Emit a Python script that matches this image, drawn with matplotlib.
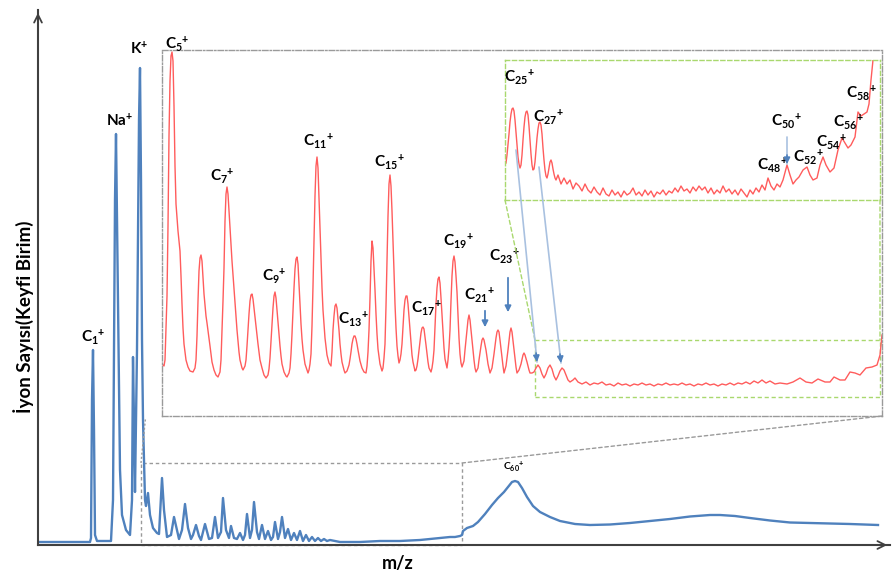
import matplotlib

matplotlib.use("Agg")
import matplotlib.pyplot as plt
import numpy as np
from matplotlib.patches import ConnectionPatch, Rectangle

plt.rcParams["font.family"] = ["Lato", "DejaVu Sans"]
plt.rcParams["font.weight"] = "bold"
plt.rcParams["mathtext.fontset"] = "custom"
for key in ("rm", "it", "bf", "sf"):
    plt.rcParams["mathtext." + key] = "Lato:bold"

# full spectrum (arbitrary m/z units, arbitrary counts)
full_mz = [0, 22, 52, 53, 54, 55, 56, 57, 59, 73, 75, 77, 78, 80, 82, 84, 88, 92, 94, 95, 96, 97,
           99, 101, 102, 103, 104, 105, 107, 108, 110, 112, 115, 119, 121, 122, 124, 126, 129, 133,
           136, 139, 141, 144, 147, 150, 153, 155, 158, 161, 163, 167, 171, 174, 177, 180, 183, 185,
           188, 191, 193, 196, 199, 202, 205, 207, 209, 212, 214, 216, 219, 221, 224, 227, 230, 233,
           235, 237, 240, 242, 244, 247, 250, 253, 256, 259, 262, 265, 268, 271, 274, 277, 280, 283,
           286, 289, 292, 302, 322, 342, 362, 382, 392, 402, 412, 417, 422, 424, 425, 429, 435, 440,
           447, 454, 460, 466, 470, 474, 477, 480, 484, 489, 495, 502, 512, 522, 537, 552, 572, 592,
           612, 632, 652, 672, 682, 697, 712, 732, 752, 772, 792, 812, 840]
full_int = [3, 3, 3, 7, 145, 195, 115, 10, 4, 4, 45, 345, 411, 245, 75, 30, 15, 10, 45, 188, 125, 53,
            195, 425, 477, 365, 205, 125, 45, 39, 52, 30, 17, 12, 11, 30, 67, 35, 8, 10,
            28, 15, 6, 15, 41, 17, 6, 10, 20, 9, 5, 21, 6, 7, 28, 7, 13, 47,
            15, 7, 19, 7, 6, 12, 5, 10, 31, 7, 15, 43, 13, 6, 20, 6, 14, 5,
            8, 23, 6, 13, 28, 7, 16, 5, 12, 5, 14, 4, 10, 4, 8, 4, 7, 4,
            6, 4, 5, 3, 3, 4, 4, 5, 6, 7, 8, 8, 9, 10, 14, 17, 19, 23,
            31, 40, 47, 53, 58, 63, 64, 63, 57, 48, 39, 33, 28, 24, 21, 20, 20.5, 22,
            24, 26, 28.5, 30, 30, 29, 27, 24.5, 22.5, 22, 21.5, 21, 20]

# zoom 1: low-mass carbon clusters, (m/z, counts)
zoom_points = [
    (0, 52), (2, 50), (3, 56), (5, 120), (6, 190), (7, 280), (8, 335), (9, 360), (10, 364), (11, 355),
    (12, 310), (13, 250), (14, 212), (16, 185), (18, 165), (19, 140), (20, 112), (21, 88), (22, 72),
    (24, 56), (26, 49), (28, 45), (31, 44), (33, 48), (34, 56), (35, 80), (36, 115), (37, 145),
    (38, 158), (39, 161), (40, 155), (41, 138), (42, 122), (44, 100), (45, 93), (47, 78), (48, 70),
    (50, 54), (52, 46), (54, 41), (56, 39), (58, 44), (59, 56), (60, 85), (61, 115), (62, 148),
    (63, 195), (64, 222), (65, 229), (66, 222), (67, 205), (68, 188), (70, 155), (72, 128), (74, 100),
    (75, 86), (77, 64), (78, 56), (80, 48), (81, 46), (83, 50), (84, 56), (85, 70), (86, 86), (87, 102),
    (88, 115), (89, 121), (90, 122), (91, 117), (92, 108), (93, 100), (95, 82), (96, 72), (98, 56),
    (100, 48), (102, 41), (104, 38), (106, 41), (107, 47), (108, 58), (109, 75), (110, 92), (111, 108),
    (112, 120), (113, 124), (114, 118), (115, 106), (116, 95), (117, 83), (118, 70), (119, 60),
    (120, 52), (122, 44), (124, 40), (125, 39), (127, 43), (128, 48), (129, 62), (130, 82), (131, 106),
    (132, 128), (133, 147), (134, 157), (135, 159), (136, 152), (137, 132), (138, 111), (139, 92),
    (140, 77), (141, 66), (143, 52), (146, 43), (147, 46), (148, 52), (149, 62), (150, 90), (151, 130),
    (152, 176), (153, 220), (154, 250), (155, 259), (156, 248), (157, 218), (158, 185), (159, 155),
    (160, 128), (161, 106), (163, 78), (165, 61), (167, 53), (169, 50), (170, 64), (171, 86),
    (172, 100), (173, 110), (174, 112), (175, 108), (176, 97), (177, 86), (178, 72), (179, 62),
    (180, 54), (182, 46), (183, 43), (185, 45), (187, 51), (188, 57), (189, 64), (190, 72), (191, 77),
    (192, 80), (193, 80), (194, 77), (195, 72), (196, 66), (198, 55), (200, 48), (202, 44), (204, 43),
    (205, 50), (206, 64), (207, 86), (208, 118), (209, 155), (210, 175), (211, 168), (212, 148),
    (213, 126), (214, 102), (215, 82), (216, 67), (218, 52), (220, 45), (221, 48), (222, 58), (223, 72),
    (224, 110), (225, 156), (226, 200), (227, 232), (228, 241), (229, 230), (230, 205), (231, 176),
    (232, 145), (233, 112), (234, 88), (235, 70), (236, 60), (237, 53), (238, 56), (239, 62), (240, 72),
    (241, 90), (242, 106), (243, 116), (244, 120), (245, 120), (246, 112), (247, 99), (248, 86),
    (249, 72), (250, 61), (251, 54), (253, 45), (254, 46), (255, 50), (256, 57), (257, 66), (258, 76),
    (259, 83), (260, 88), (261, 89), (262, 87), (263, 79), (264, 71), (265, 62), (266, 54), (267, 48),
    (269, 44), (270, 48), (271, 55), (272, 66), (273, 88), (274, 112), (275, 128), (276, 137),
    (277, 139), (278, 133), (279, 118), (280, 101), (281, 84), (282, 68), (283, 57), (285, 48),
    (286, 56), (287, 68), (288, 86), (289, 115), (290, 140), (291, 155), (292, 160), (293, 154),
    (294, 140), (295, 124), (296, 100), (297, 78), (298, 62), (299, 53), (300, 49), (302, 55),
    (303, 66), (305, 86), (306, 96), (307, 101), (308, 96), (309, 86), (310, 76), (312, 56), (313, 48),
    (314, 44), (316, 48), (317, 56), (319, 70), (320, 76), (321, 78), (322, 76), (323, 71), (324, 66),
    (326, 52), (328, 43), (330, 48), (332, 62), (334, 78), (335, 84), (336, 86), (337, 84), (338, 76),
    (339, 67), (341, 50), (342, 43), (344, 50), (346, 66), (348, 84), (349, 88), (350, 84), (352, 66),
    (354, 49), (355, 43), (357, 46), (359, 52), (361, 61), (362, 63), (363, 61), (365, 54), (367, 46),
    (368, 43), (370, 43), (372, 44), (374, 48), (376, 51), (378, 48), (380, 42), (382, 38), (384, 42),
    (386, 48), (388, 51), (390, 47), (392, 40), (394, 36), (396, 40), (398, 45), (400, 48), (402, 46),
    (404, 41), (406, 36), (408, 34), (411, 36), (413, 38), (416, 34), (420, 32), (424, 34), (428, 31),
    (432, 33), (436, 32), (440, 34), (444, 31), (448, 32), (452, 30), (456, 33), (460, 31), (464, 32),
    (468, 30), (472, 32), (476, 31), (480, 33), (484, 31), (488, 32), (492, 30), (496, 32), (500, 31),
    (504, 33), (508, 31), (512, 32), (516, 31), (520, 33), (524, 31), (528, 32), (532, 30), (536, 32),
    (540, 31), (544, 33), (548, 31), (552, 32), (556, 30), (560, 32), (564, 31), (568, 33), (572, 31),
    (576, 33), (580, 32), (584, 34), (588, 32), (592, 35), (596, 33), (600, 36), (604, 33), (608, 35),
    (613, 32), (618, 33), (625, 32), (631, 34), (638, 38), (644, 34), (650, 33), (656, 37), (663, 34),
    (668, 34), (672, 39), (678, 36), (683, 36), (688, 44), (693, 43), (698, 41), (704, 48), (710, 49),
    (715, 51), (718, 61), (720, 81),
]
zoom_mz = [p[0] for p in zoom_points]
zoom_int = [p[1] for p in zoom_points]

# zoom 2: high-mass clusters C25 ... C58
deep_points = [
    (1, 37), (2, 45), (3, 55), (4, 66), (5, 78), (6, 86), (7, 91), (8, 92), (9, 89), (10, 80), (11, 68),
    (12, 55), (13, 43), (14, 36), (15, 32), (16, 35), (17, 45), (18, 60), (19, 73), (20, 83), (21, 88),
    (22, 89), (23, 85), (24, 74), (25, 60), (26, 46), (27, 35), (28, 30), (29, 31), (30, 38), (31, 50),
    (32, 62), (33, 71), (34, 77), (35, 78), (36, 75), (37, 66), (38, 52), (39, 40), (40, 30), (41, 24),
    (42, 22), (43, 26), (44, 32), (45, 38), (46, 40), (47, 37), (48, 31), (49, 26), (50, 22), (51, 20),
    (53, 25), (56, 16), (59, 22), (62, 16), (65, 20), (68, 11), (71, 17), (74, 14), (77, 9), (80, 16),
    (83, 10), (86, 7), (89, 13), (92, 8), (95, 5), (98, 12), (101, 6), (104, 4), (107, 10), (110, 5),
    (113, 8), (116, 3), (119, 9), (122, 5), (125, 7), (128, 12), (131, 5), (134, 8), (137, 4), (140, 10),
    (143, 5), (146, 9), (149, 3), (152, 8), (155, 6), (158, 10), (161, 5), (164, 9), (167, 7), (170, 12),
    (173, 8), (176, 14), (179, 9), (182, 11), (185, 7), (188, 13), (191, 9), (194, 14), (197, 10),
    (200, 13), (203, 7), (206, 12), (209, 6), (212, 10), (215, 7), (218, 14), (221, 8), (224, 11),
    (227, 6), (230, 10), (233, 5), (236, 11), (239, 7), (242, 3), (245, 10), (248, 6), (251, 12),
    (254, 8), (257, 15), (260, 10), (263, 22), (266, 14), (269, 10), (272, 16), (275, 13), (278, 20),
    (282, 35), (285, 25), (288, 16), (291, 20), (294, 23), (298, 30), (302, 33), (305, 25), (308, 20),
    (312, 22), (315, 35), (318, 43), (321, 35), (325, 28), (329, 32), (333, 50), (337, 62), (340, 57),
    (343, 52), (346, 55), (350, 63), (353, 88), (356, 84), (359, 86), (362, 88), (364, 96), (366, 120),
    (368, 140),
]
deep_mz = [p[0] for p in deep_points]
deep_int = [p[1] for p in deep_points]

BLUE = "#4f81bd"
LIGHT_BLUE = "#a9c1e0"
RED = "#ff5c5c"
GREEN = "#a9d86e"
GREY = "#9a9a9a"
AXIS = "#404040"

fig = plt.figure(figsize=(8.93, 5.76), dpi=100)
ax = fig.add_axes([38 / 893, 31 / 576, 852 / 893, 535 / 576])
ax.plot(full_mz, full_int, color=BLUE, lw=1.7, solid_joinstyle="round")
ax.set_xlim(0, 852)
ax.set_ylim(0, 535)
ax.set_xticks([])
ax.set_yticks([])
for side in ("top", "right"):
    ax.spines[side].set_visible(False)
for side in ("left", "bottom"):
    ax.spines[side].set_color(AXIS)
    ax.spines[side].set_linewidth(1.5)
ax.annotate("", xy=(0, 1.0), xytext=(0, 0.95), xycoords="axes fraction",
            arrowprops=dict(arrowstyle="->", color=AXIS, lw=1.3, mutation_scale=14), annotation_clip=False)
ax.annotate("", xy=(1.0, 0), xytext=(0.97, 0), xycoords="axes fraction",
            arrowprops=dict(arrowstyle="->", color=AXIS, lw=1.3, mutation_scale=14), annotation_clip=False)
ax.set_ylabel("İyon Sayısı(Keyfi Birim)", fontsize=13.5, fontweight="bold")
ax.yaxis.set_label_coords(-4 / 852, 228 / 535)
ax.set_xlabel("m/z", fontsize=13, fontweight="bold")
ax.xaxis.set_label_coords(360 / 852, -10 / 535)

lab = dict(ha="center", va="center", fontsize=11, fontweight="bold")
ax.text(55, 208, "C$_{1}$$^{+}$", **lab)
ax.text(82, 424, "Na$^{+}$", **lab)
ax.text(101, 496, "K$^{+}$", **lab)
ax.text(476, 78, "C$_{60}$$^{+}$", ha="center", va="center", fontsize=7.5, fontweight="bold")

# region that is enlarged in the first inset
x0, x1, ytop = 103, 424, 82
ax.add_patch(Rectangle((x0, 0), x1 - x0, ytop, fill=False, ls=(0, (2.5, 2)), lw=1, ec=GREY, clip_on=False))
ax.plot([x0, x0 + 4.5], [ytop, ytop + 45], ls=(0, (1.5, 1.5)), lw=1, color=GREY)

ins = fig.add_axes([162 / 893, 160 / 576, 720 / 893, 366 / 576])
ins.plot(zoom_mz, zoom_int, color=RED, lw=1.0, solid_joinstyle="round")
ins.set_xlim(0, 720)
ins.set_ylim(0, 366)
ins.set_xticks([])
ins.set_yticks([])
ins.patch.set_alpha(0)
for sp in ins.spines.values():
    sp.set_color(GREY)
    sp.set_linewidth(1)
    sp.set_linestyle((0, (4, 1.5, 1, 1.5)))
fig.add_artist(ConnectionPatch(xyA=(x1, ytop), coordsA=ax.transData, xyB=(1, 0), coordsB=ins.transAxes,
                               ls=(0, (2.5, 2)), lw=1, color=GREY))

for x, y, s in [(15, 372, "C$_{5}$$^{+}$"), (60, 240, "C$_{7}$$^{+}$"), (112, 140, "C$_{9}$$^{+}$"),
                (156, 275, "C$_{11}$$^{+}$"), (191, 97, "C$_{13}$$^{+}$"), (227, 254, "C$_{15}$$^{+}$"),
                (264, 108, "C$_{17}$$^{+}$"), (296, 175, "C$_{19}$$^{+}$"), (317, 121, "C$_{21}$$^{+}$"),
                (342, 160, "C$_{23}$$^{+}$")]:
    ins.text(x, y, s, **lab)
for x, ya, yb in [(323, 108, 86), (346, 141, 101)]:
    ins.annotate("", xy=(x, yb), xytext=(x, ya),
                 arrowprops=dict(arrowstyle="-|>", color=BLUE, lw=1.3, mutation_scale=9))

# region enlarged again in the second inset
g0, g1, gy0, gy1 = 373, 718, 19, 76
ins.add_patch(Rectangle((g0, gy0), g1 - g0, gy1 - gy0, fill=False, ls=(0, (3, 2)), lw=1, ec=GREEN))

deep = fig.add_axes([505 / 893, 376 / 576, 375 / 893, 140 / 576])
deep.plot(deep_mz, deep_int, color=RED, lw=1.0, solid_joinstyle="round")
deep.set_xlim(0, 375)
deep.set_ylim(0, 140)
deep.set_xticks([])
deep.set_yticks([])
deep.patch.set_alpha(0)
for sp in deep.spines.values():
    sp.set_color(GREEN)
    sp.set_linewidth(1)
    sp.set_linestyle((0, (3, 2)))
for xy_a, xy_b in [((0, 0), (g0, gy1)), ((1, 0), (g1, gy1))]:
    fig.add_artist(ConnectionPatch(xyA=xy_a, coordsA=deep.transAxes, xyB=xy_b, coordsB=ins.transData,
                                   ls=(0, (3, 2)), lw=1, color=GREEN))

for x, y, s in [(14, 123, "C$_{25}$$^{+}$"), (43, 83, "C$_{27}$$^{+}$"), (267, 35, "C$_{48}$$^{+}$"),
                (281, 79, "C$_{50}$$^{+}$"), (303, 43, "C$_{52}$$^{+}$"), (326, 58, "C$_{54}$$^{+}$"),
                (343, 78, "C$_{56}$$^{+}$"), (356, 107, "C$_{58}$$^{+}$")]:
    deep.text(x, y, s, **lab)


def two_tone_arrow(ax_a, xy_a, ax_b, xy_b):
    # light shaft, darker head (as in the original slide)
    fig.add_artist(ConnectionPatch(xyA=xy_a, coordsA=ax_a.transData, xyB=xy_b, coordsB=ax_b.transData,
                                   lw=1.2, color=LIGHT_BLUE))
    pa = ax_a.transData.transform(xy_a)
    pb = ax_b.transData.transform(xy_b)
    start = pb + (pa - pb) * 9 / np.hypot(*(pa - pb))
    fig.add_artist(ConnectionPatch(xyA=tuple(start), coordsA="figure pixels", xyB=tuple(pb),
                                   coordsB="figure pixels", arrowstyle="-|>", mutation_scale=9,
                                   lw=1.2, color=BLUE))


two_tone_arrow(deep, (282, 63), deep, (282, 36))
# C25 / C27 positions carried down to the first inset
two_tone_arrow(deep, (11, 50), ins, (375, 54))
two_tone_arrow(deep, (34, 33), ins, (399, 53))

fig.savefig("out.png")
